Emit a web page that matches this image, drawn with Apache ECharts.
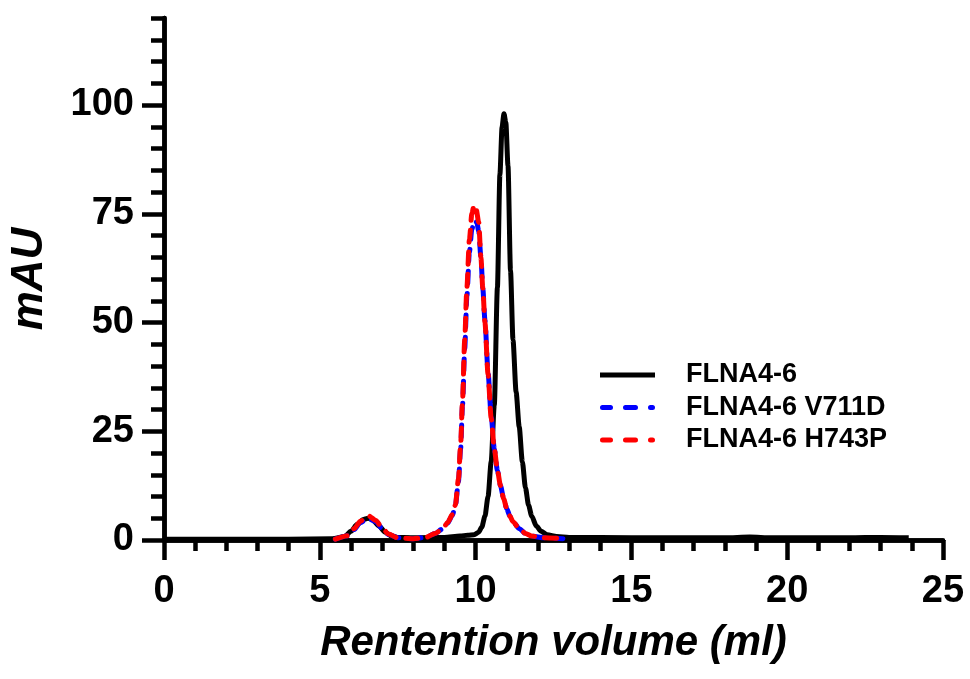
<!DOCTYPE html>
<html>
<head>
<meta charset="utf-8">
<title>FLNA4-6 SEC</title>
<script src="https://cdn.jsdelivr.net/npm/echarts@6/dist/echarts.min.js"></script>
<style>
  html, body { margin: 0; padding: 0; background: #fff; }
  #chart { width: 970px; height: 679px; }
</style>
</head>
<body>
<div id="chart"></div>
<script>
// FLNA4-6 (wild type)
var wtVolume = [0, 2, 4, 5.4, 5.8, 6.0, 6.2, 6.4, 6.55, 6.7, 6.9, 7.1, 7.3, 7.5, 8.0, 9.0, 9.5, 9.75, 9.95, 10.1,
    10.2, 10.3, 10.4, 10.5, 10.6, 10.7, 10.78, 10.85, 10.91, 10.97, 11.04, 11.12, 11.2, 11.3, 11.4, 11.5, 11.6, 11.7,
    11.8, 11.95, 12.1, 12.3, 12.6, 13, 15, 18, 18.8, 19.5, 22, 23, 23.9];
var wtAbs = [0.2, 0.2, 0.2, 0.3, 0.8, 2.0, 3.6, 4.7, 5.0, 4.6, 3.2, 1.8, 0.9, 0.6, 0.5, 0.6, 0.9, 1.1, 1.2, 1.8,
    3.0, 5.5, 10, 18, 31, 58, 84, 95, 98, 96, 86, 62, 46, 34, 26, 18, 12, 8,
    5.5, 3.2, 2.0, 1.2, 0.8, 0.6, 0.5, 0.5, 0.7, 0.5, 0.5, 0.6, 0.5];

// FLNA4-6 V711D
var v711dVolume = [5.5, 5.9, 6.1, 6.3, 6.55, 6.8, 7.0, 7.2, 7.5, 8.0, 8.4, 8.7, 8.95, 9.1, 9.25, 9.35, 9.45, 9.52,
    9.58, 9.65, 9.72, 9.8, 9.88, 9.96, 10.04, 10.1, 10.17, 10.23, 10.3, 10.4, 10.5, 10.6, 10.7, 10.8, 10.9, 11.0,
    11.1, 11.2, 11.4, 11.6, 11.8, 12.2, 12.8];
var v711dAbs = [0.2, 1.0, 2.4, 4.0, 5.0, 4.2, 2.6, 1.3, 0.5, 0.3, 0.6, 1.5, 2.6, 3.9, 5.6, 7.8, 13.5, 21,
    31, 44, 56, 66, 71.5, 73.5, 73, 71, 65, 58, 50.5, 38.5, 28.5, 21, 16, 12.5, 9.5, 7.2,
    5.5, 4.2, 2.6, 1.5, 0.9, 0.5, 0.3];

// FLNA4-6 H743P
var h743pVolume = [5.5, 5.9, 6.1, 6.3, 6.55, 6.8, 7.0, 7.2, 7.5, 8.0, 8.4, 8.7, 8.95, 9.1, 9.25, 9.35, 9.45, 9.52,
    9.58, 9.65, 9.72, 9.8, 9.88, 9.95, 10.02, 10.1, 10.17, 10.23, 10.3, 10.4, 10.5, 10.6, 10.7, 10.8, 10.9, 11.0,
    11.1, 11.2, 11.4, 11.6, 11.8, 12.2, 12.8];
var h743pAbs = [0.2, 1.0, 2.6, 4.3, 5.6, 4.5, 2.8, 1.4, 0.5, 0.3, 0.6, 1.5, 2.6, 4.0, 5.8, 8, 14, 22,
    32, 46, 58, 69, 75, 77, 76, 73, 65, 58, 50, 38, 28, 21, 16, 12.5, 9.5, 7.2,
    5.5, 4.2, 2.6, 1.5, 0.9, 0.5, 0.3];

var seriesNames = ['FLNA4-6', 'FLNA4-6 V711D', 'FLNA4-6 H743P'];
var xMajorTicks = [0, 5, 10, 15, 20, 25];
var yMajorTicks = [0, 25, 50, 75, 100];

function pairs (xs, ys) {
    return xs.map(function (x, i) { return [x, ys[i]]; });
}

var font = 'Arial, "Liberation Sans", sans-serif';
var dash = [12, 10];
// legend swatches: a solid bar and a bar of three rounded dashes
var solidIcon = 'path://M0,0h55v5h-55z';
var dashIcon = 'path://M2.5,0h8a2.5,2.5 0 0 1 0,5h-8a2.5,2.5 0 0 1 0,-5z' +
    'M25.5,0h10a2.5,2.5 0 0 1 0,5h-10a2.5,2.5 0 0 1 0,-5z' +
    'M50.5,0h2a2.5,2.5 0 0 1 0,5h-2a2.5,2.5 0 0 1 0,-5z';

var chart = echarts.init(document.getElementById('chart'));
var option = {
    animation: false,
    grid: { left: 160, right: 27, top: 18, bottom: 139 },
    legend: {
        orient: 'vertical',
        left: 600,
        top: 360,
        padding: 0,
        itemWidth: 55,
        itemHeight: 5,
        itemGap: 2.5,
        textStyle: {
            color: '#000', fontFamily: font, fontWeight: 'bold', fontSize: 27,
            lineHeight: 30, padding: [0, 0, 0, 26]
        },
        data: [
            { name: seriesNames[0], icon: solidIcon },
            { name: seriesNames[1], icon: dashIcon },
            { name: seriesNames[2], icon: dashIcon }
        ]
    },
    xAxis: [
        {
            // major ticks + labels
            type: 'value', min: 0, max: 25, interval: 5, position: 'bottom',
            name: 'Rentention volume (ml)', nameLocation: 'middle', nameGap: 82,
            nameTextStyle: { color: '#000', fontFamily: font, fontWeight: 'bold', fontStyle: 'italic', fontSize: 42 },
            axisLine: { lineStyle: { color: '#000', width: 4.5 } },
            axisTick: { length: 20, lineStyle: { color: '#000', width: 4.5 }, customValues: xMajorTicks },
            axisLabel: { color: '#000', fontFamily: font, fontWeight: 'bold', fontSize: 38, margin: 33, customValues: xMajorTicks },
            splitLine: { show: false }
        },
        {
            // minor ticks every 1 ml
            type: 'value', min: 0, max: 25, interval: 1, position: 'bottom',
            axisLine: { lineStyle: { color: '#000', width: 4.5 } },
            axisTick: { length: 11, lineStyle: { color: '#000', width: 4.5 } },
            axisLabel: { show: false },
            splitLine: { show: false }
        }
    ],
    yAxis: [
        {
            type: 'value', min: 0, max: 120, interval: 25, position: 'left',
            name: 'mAU', nameLocation: 'middle', nameGap: 112,
            nameTextStyle: { color: '#000', fontFamily: font, fontWeight: 'bold', fontStyle: 'italic', fontSize: 44 },
            axisLine: { show: true, lineStyle: { color: '#000', width: 4.5 } },
            axisTick: { length: 22, lineStyle: { color: '#000', width: 4.5 }, customValues: yMajorTicks },
            axisLabel: { color: '#000', fontFamily: font, fontWeight: 'bold', fontSize: 38, margin: 30, customValues: yMajorTicks },
            splitLine: { show: false }
        },
        {
            // minor ticks every 5 mAU
            type: 'value', min: 0, max: 120, interval: 5, position: 'left',
            axisLine: { show: true, lineStyle: { color: '#000', width: 4.5 } },
            axisTick: { length: 13, lineStyle: { color: '#000', width: 4.5 } },
            axisLabel: { show: false },
            splitLine: { show: false }
        }
    ],
    series: [
        {
            name: seriesNames[0], type: 'line', showSymbol: false, symbol: 'none',
            smooth: 0.25, smoothMonotone: 'x',
            lineStyle: { color: '#000', width: 5 }, itemStyle: { color: '#000' },
            data: pairs(wtVolume, wtAbs)
        },
        {
            name: seriesNames[1], type: 'line', showSymbol: false, symbol: 'none',
            smooth: 0.25, smoothMonotone: 'x',
            lineStyle: { color: '#0000ff', width: 5, type: dash, cap: 'round' }, itemStyle: { color: '#0000ff' },
            data: pairs(v711dVolume, v711dAbs)
        },
        {
            name: seriesNames[2], type: 'line', showSymbol: false, symbol: 'none',
            smooth: 0.25, smoothMonotone: 'x',
            lineStyle: { color: '#ff0000', width: 5, type: dash, cap: 'round' }, itemStyle: { color: '#ff0000' },
            data: pairs(h743pVolume, h743pAbs)
        }
    ]
};
chart.setOption(option);
</script>
</body>
</html>
